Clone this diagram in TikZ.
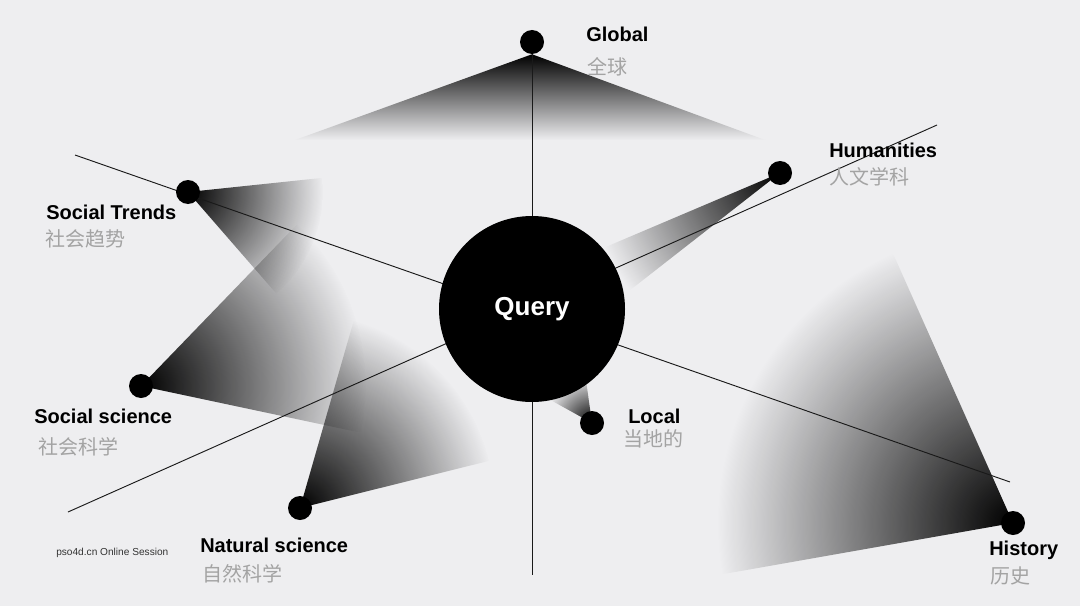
\documentclass[tikz,border=0pt]{standalone}
\usepackage{fontspec}
\setmainfont{Liberation Sans}
\newfontfamily\zhfont{Noto Sans CJK SC}
\usepackage{tikz}
\usetikzlibrary{positioning,backgrounds,fadings}
\definecolor{bgc}{RGB}{238,238,240}
\definecolor{zhgray}{RGB}{163,163,163}
\tikzfading[name=fanfade,inner color=transparent!0,outer color=transparent!100]

\begin{document}
\begin{tikzpicture}[x=0.75pt,y=-0.75pt,
  dot/.style={circle,fill=black,minimum size=18pt,inner sep=0pt},
  en/.style={anchor=base west,inner sep=0pt,font=\fontsize{15}{18}\selectfont\bfseries},
  zh/.style={anchor=base west,inner sep=0pt,text=zhgray,font=\fontsize{15}{18}\selectfont\zhfont},
  axisline/.style={draw=black!90,line width=0.7pt}]
\useasboundingbox (0,0) rectangle (1080,606);
\node[circle,fill=black,minimum size=139.5pt,inner sep=0pt,text=white,
  font=\fontsize{19.5}{22}\selectfont\bfseries] (query) at (532,309) {Query};
% dots
\node[dot] (global) at (532,42) {};
\node[dot] (human) at (780,173) {};
\node[dot] (trends) at (188,192) {};
\node[dot] (socsci) at (141,386) {};
\node[dot] (natsci) at (300,508) {};
\node[dot] (local) at (592,423) {};
\node[dot] (history) at (1013,523) {};
\coordinate (l1a) at (75,155);
\coordinate (l1b) at (1010,482);
\coordinate (l2a) at (68,512);
\coordinate (l2b) at (937,125);
\coordinate (vb) at (532,575);
\begin{scope}[on background layer]
\fill[bgc] (0,0) rectangle (1080,606);
\shade[top color=black,bottom color=bgc] (global.south) -- (295,140) -- (765,140) -- cycle;
\foreach \n/\a/\b/\r in {trends/-6/49/135,socsci/-46/12/225,natsci/-74/-14/195,
    human/142/157/190,local/209/262/48,history/170/246/295}{%
  \begin{scope}
    \clip (\n.center) -- ++(\a:\r) arc[start angle=\a,end angle=\b,radius=\r] -- cycle;
    \fill[black,path fading=fanfade] (\n.center) circle (\r);
  \end{scope}}
\draw[axisline] (l1a) -- (l1b);
\draw[axisline] (l2a) -- (l2b);
\draw[axisline] (global) -- (vb);
\end{scope}
% labels
\node[en] (globalen) at (586,42) {Global};
\node[zh] (globalzh) at (587,75) {全球};
\node[en] (humanen) at (829,157) {Humanities};
\node[zh] (humanzh) at (829,184) {人文学科};
\node[en] (trendsen) at (46,219) {Social Trends};
\node[zh] (trendszh) at (45,246) {社会趋势};
\node[en] (socscien) at (34,423) {Social science};
\node[zh] (socscizh) at (38,454) {社会科学};
\node[en] (natscien) at (200,552) {Natural science};
\node[zh] (natscizh) at (202,581) {自然科学};
\node[en] (localen) at (628,423) {Local};
\node[zh] (localzh) at (623,446) {当地的};
\node[en] (historyen) at (989,555) {History};
\node[zh] (historyzh) at (990,583) {历史};
\node[anchor=base west,inner sep=0pt,text=black!80,font=\fontsize{7.6}{9}\selectfont] (session) at (56,555) {pso4d.cn Online Session};
\end{tikzpicture}
\end{document}
